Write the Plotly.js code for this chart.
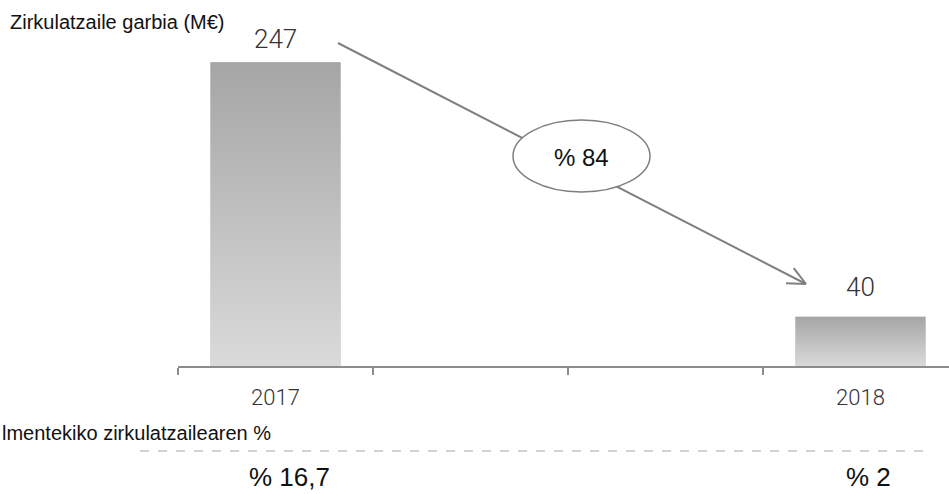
<!DOCTYPE html>
<html>
<head>
<meta charset="utf-8">
<script src="https://cdn.plot.ly/plotly-3.0.1.min.js"></script>
<style>html,body{margin:0;padding:0;background:#fff;}#chart{width:949px;height:494px;}</style>
</head>
<body>
<div id="chart"></div>
<script>
// ---- data ----
const categories = ['2017', ' ', '  ', '2018'];
const netCirculating = [247, null, null, 40];
const shareOfSales = ['% 16,7', null, null, '% 2'];
const changeLabel = '% 84';
const chartTitle = 'Zirkulatzaile garbia (M€)';
const shareTitle = 'lmentekiko zirkulatzailearen %';

// ---- geometry helpers (plot area in pixels) ----
const W = 949, H = 494;
const M = {l: 178, r: 0, t: 34, b: 128};
const PW = W - M.l - M.r, PH = H - M.t - M.b;
const X = px => (px - M.l) / PW;
const Y = py => (H - M.b - py) / PH;

const barWidth = 0.667;
const grey = '#7f7f7f';
const lightFont = {family: 'Roboto, "Liberation Sans", sans-serif', weight: 300, color: '#333333'};
const blackFont = {family: '"Liberation Sans", Arial, sans-serif', color: '#111111'};

const traces = [{
  type: 'bar',
  x: categories,
  y: netCirculating,
  width: barWidth,
  marker: {color: '#bfbfbf'},
  hoverinfo: 'skip',
  showlegend: false
}];

// gradient overlays for each bar, built from the same values
categories.forEach((c, i) => {
  const v = netCirculating[i];
  if (v == null) return;
  traces.push({
    type: 'scatter', mode: 'lines', xaxis: 'x2', yaxis: 'y',
    x: [i - barWidth / 2, i + barWidth / 2, i + barWidth / 2, i - barWidth / 2, i - barWidth / 2],
    y: [0, 0, v, v, 0],
    fill: 'toself',
    fillgradient: {type: 'vertical', colorscale: [[0, '#dadada'], [1, '#a5a5a5']]},
    line: {width: 0},
    hoverinfo: 'skip', showlegend: false
  });
});

const annotations = [];
// value labels
const valueShift = [6, 13];
let k = 0;
categories.forEach((c, i) => {
  const v = netCirculating[i];
  if (v == null) return;
  annotations.push({
    xref: 'x2', yref: 'y', x: i, y: v, yanchor: 'bottom', yshift: valueShift[k++],
    text: String(v), showarrow: false,
    font: Object.assign({size: 26}, lightFont)
  });
});
// share-of-sales labels
const shareShift = [14, 8];
k = 0;
categories.forEach((c, i) => {
  const s = shareOfSales[i];
  if (s == null) return;
  annotations.push({
    xref: 'x2', yref: 'paper', x: i, y: Y(493), yanchor: 'bottom', xshift: shareShift[k++],
    borderpad: 0, text: s, showarrow: false,
    font: Object.assign({size: 26}, blackFont)
  });
});
annotations.push({
  xref: 'paper', yref: 'paper', x: X(8), y: Y(22), xanchor: 'left', yanchor: 'middle',
  text: chartTitle, showarrow: false, font: Object.assign({size: 20}, blackFont)
});
annotations.push({
  xref: 'paper', yref: 'paper', x: X(0), y: Y(433), xanchor: 'left', yanchor: 'middle',
  text: shareTitle, showarrow: false, font: Object.assign({size: 20}, blackFont)
});
annotations.push({
  xref: 'paper', yref: 'paper', x: X(581), y: Y(157), xanchor: 'center', yanchor: 'middle',
  text: changeLabel, showarrow: false, font: Object.assign({size: 24}, blackFont)
});

// arrow + ellipse decorations
const tip = [806, 284], start = [338, 43];
const ang = Math.atan2(start[1] - tip[1], start[0] - tip[0]);
const armLen = 20, spread = 25 * Math.PI / 180;
const arm1 = [tip[0] + armLen * Math.cos(ang + spread), tip[1] + armLen * Math.sin(ang + spread)];
const arm2 = [tip[0] + armLen * Math.cos(ang - spread), tip[1] + armLen * Math.sin(ang - spread)];

const shapes = [
  {type: 'line', xref: 'paper', yref: 'paper', x0: X(start[0]), y0: Y(start[1]), x1: X(tip[0]), y1: Y(tip[1]),
   line: {color: grey, width: 2}},
  {type: 'line', xref: 'paper', yref: 'paper', x0: X(arm1[0]), y0: Y(arm1[1]), x1: X(tip[0]), y1: Y(tip[1]),
   line: {color: grey, width: 2}},
  {type: 'line', xref: 'paper', yref: 'paper', x0: X(arm2[0]), y0: Y(arm2[1]), x1: X(tip[0]), y1: Y(tip[1]),
   line: {color: grey, width: 2}},
  {type: 'circle', xref: 'paper', yref: 'paper', x0: X(513), x1: X(650), y0: Y(192), y1: Y(120),
   fillcolor: '#ffffff', line: {color: grey, width: 1.5}},
  {type: 'line', xref: 'paper', yref: 'paper', x0: X(140), x1: X(925), y0: Y(451), y1: Y(451),
   line: {color: '#c4c4c4', width: 1.5, dash: 'dash'}}
];

const xr = [-0.5, -0.5 + PW / 195];
const layout = {
  width: W, height: H,
  margin: M,
  paper_bgcolor: '#ffffff', plot_bgcolor: '#ffffff',
  showlegend: false,
  xaxis: {
    type: 'category', categoryorder: 'array', categoryarray: categories,
    range: xr, tickson: 'boundaries', ticks: 'outside', ticklen: 7, tickwidth: 1.5, tickcolor: '#8c8c8c',
    showline: true, linecolor: '#8c8c8c', linewidth: 1.5, showgrid: false, zeroline: false,
    ticklabelstandoff: 11,
    tickfont: Object.assign({size: 22}, lightFont), fixedrange: true
  },
  xaxis2: {overlaying: 'x', range: xr, visible: false, fixedrange: true},
  yaxis: {range: [0, 270], visible: false, fixedrange: true},
  annotations: annotations,
  shapes: shapes
};

Plotly.newPlot('chart', traces, layout, {displayModeBar: false, staticPlot: true});
</script>
</body>
</html>
